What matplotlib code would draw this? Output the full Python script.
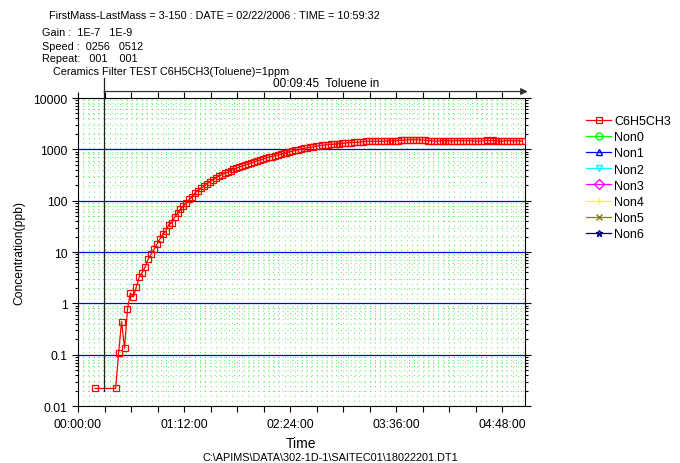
import numpy as np
import matplotlib
matplotlib.use('Agg')
import matplotlib.pyplot as plt
from matplotlib.ticker import FixedLocator, FuncFormatter, LogLocator, NullFormatter
from matplotlib.transforms import blended_transform_factory

plt.rcParams['font.family'] = ['Liberation Sans', 'DejaVu Sans']

# scan times (min) and toluene concentration (ppb)
first_time = 11.6
first_value = 0.022
scan_start = 25.6     # regular scans afterwards
scan_step = 2.0
toluene = [0.022, 0.11, 0.44, 0.133, 0.77, 1.59, 1.33, 2.08, 3.26, 3.97,
           5.1, 7.2, 9.0, 11.3, 14.1, 17.9, 22.4, 25.2, 34, 36.7,
           47, 57, 68, 79, 92, 106, 118, 144, 155, 174,
           191, 211, 234, 254, 275, 299, 320, 339, 359, 385,
           407, 427, 452, 473, 495, 519, 543, 569, 596, 617,
           646, 676, 700, 724, 750, 776, 804, 832, 861, 891,
           923, 955, 977, 1012, 1047, 1072, 1096, 1122, 1148, 1175,
           1197, 1216, 1230, 1245, 1259, 1274, 1288, 1309, 1318, 1349,
           1349, 1365, 1380, 1380, 1406, 1429, 1445, 1439, 1429, 1439,
           1429, 1445, 1445, 1462, 1462, 1472, 1480, 1500, 1520, 1530,
           1540, 1530, 1540, 1530, 1520, 1500, 1480, 1470, 1450, 1440,
           1460, 1470, 1480, 1470, 1450, 1460, 1480, 1470, 1460, 1470,
           1480, 1460, 1440, 1430, 1450, 1480, 1490, 1480, 1490, 1470,
           1440, 1430, 1460, 1480, 1470, 1450, 1460, 1470, 1440]

times = [first_time] + list(scan_start + scan_step * np.arange(len(toluene)))
values = [first_value] + toluene

other_names = ['Non0', 'Non1', 'Non2', 'Non3', 'Non4', 'Non5', 'Non6']
other_colors = ['#00ff00', '#0000ff', '#00ffff', '#ff00ff', '#ffff00', '#808000', '#000080']
other_markers = ['o', '^', 'v', 'D', '+', 'x', '*']

event_time = 17.7   # "Toluene in" marker line
x_max = 303.6

fig = plt.figure(figsize=(6.8, 4.64), dpi=100)
ax = fig.add_axes([78/680, 1-407/464, (525-78)/680, (407-99)/464])

ax.plot(times, values, color='red', lw=0.9, marker='s', ms=5,
        mfc='none', mec='red', mew=0.9, label='C6H5CH3', zorder=5)
for name, c, m in zip(other_names, other_colors, other_markers):
    ax.plot([], [], color=c, lw=0.9, marker=m, ms=5, mfc='none', mec=c, label=name)

ax.set_yscale('log')
ax.set_ylim(0.01, 10000)
ax.set_xlim(0, x_max)

def hms(v, pos):
    m = int(round(v))
    return f'{m // 60:02d}:{m % 60:02d}:00'

ax.xaxis.set_major_locator(FixedLocator([0, 72, 144, 216, 288]))
ax.xaxis.set_major_formatter(FuncFormatter(hms))
ax.xaxis.set_minor_locator(FixedLocator(np.arange(0, x_max, 18)))
ax.yaxis.set_major_locator(FixedLocator([0.01, 0.1, 1, 10, 100, 1000, 10000]))
ax.yaxis.set_major_formatter(FuncFormatter(lambda v, p: f'{v:g}'))
ax.yaxis.set_minor_locator(LogLocator(base=10, subs=np.arange(2, 10)))
ax.yaxis.set_minor_formatter(NullFormatter())

ax.tick_params(axis='both', which='both', direction='out', labelsize=8.7, width=0.8)
ax.tick_params(axis='x', which='both', length=4, top=True, pad=5)
ax.tick_params(axis='y', which='major', length=4, right=True)
ax.tick_params(axis='y', which='minor', length=2.5, right=True)

# grid
green = '#55ee55'
for xv in np.arange(3.6, x_max, 3.6):
    ax.axvline(xv, color=green, lw=0.7, ls=(0, (1, 4)), zorder=1)
for dec in [0.01, 0.1, 1, 10, 100, 1000]:
    for k in range(2, 10):
        ax.axhline(dec * k, color=green, lw=0.7, ls=(0, (1, 4)), zorder=1)
for dec in [0.1, 1, 10, 100, 1000]:
    ax.axhline(dec, color='#0000ff', lw=0.9, zorder=2)

ax.set_xlabel('Time', fontsize=10, labelpad=4)
ax.set_ylabel('Concentration(ppb)', fontsize=8.7, labelpad=6)

# event marker
tr = blended_transform_factory(ax.transData, ax.transAxes)
ax.plot([event_time, event_time], [0.049, 1.065], color='#222222', lw=0.9,
        transform=tr, clip_on=False, zorder=6)
ax.annotate('', xy=(1.006, 1.021), xycoords='axes fraction',
            xytext=(event_time, 1.021), textcoords=tr,
            arrowprops=dict(arrowstyle='-|>', color='#333333', lw=0.9,
                            mutation_scale=10, shrinkA=0, shrinkB=0))
ax.text(0.554, 1.05, '00:09:45  Toluene in', transform=ax.transAxes,
        ha='center', va='center', fontsize=8.5)

# header
hdr = 7.8
fig.text(49/680, 1-16/464, 'FirstMass-LastMass = 3-150 : DATE = 02/22/2006 : TIME = 10:59:32',
         fontsize=hdr, va='center')
fig.text(42/680, 1-33/464, 'Gain :  1E-7   1E-9', fontsize=hdr, va='center')
fig.text(42/680, 1-47/464, 'Speed :  0256   0512', fontsize=hdr, va='center')
fig.text(42/680, 1-59/464, 'Repeat:   001    001', fontsize=hdr, va='center')
fig.text(53/680, 1-72/464, 'Ceramics Filter TEST C6H5CH3(Toluene)=1ppm', fontsize=hdr, va='center')
fig.text(330/680, 1-458/464, 'C:\\APIMS\\DATA\\302-1D-1\\SAITEC01\\18022201.DT1',
         fontsize=hdr, ha='center', va='center')

fig.legend(loc='upper left', bbox_to_anchor=(580/680, 1-110/464), frameon=False,
           fontsize=9, handlelength=2.0, handletextpad=0.25, labelspacing=0.33,
           borderpad=0)

fig.savefig('out.png', dpi=100)
